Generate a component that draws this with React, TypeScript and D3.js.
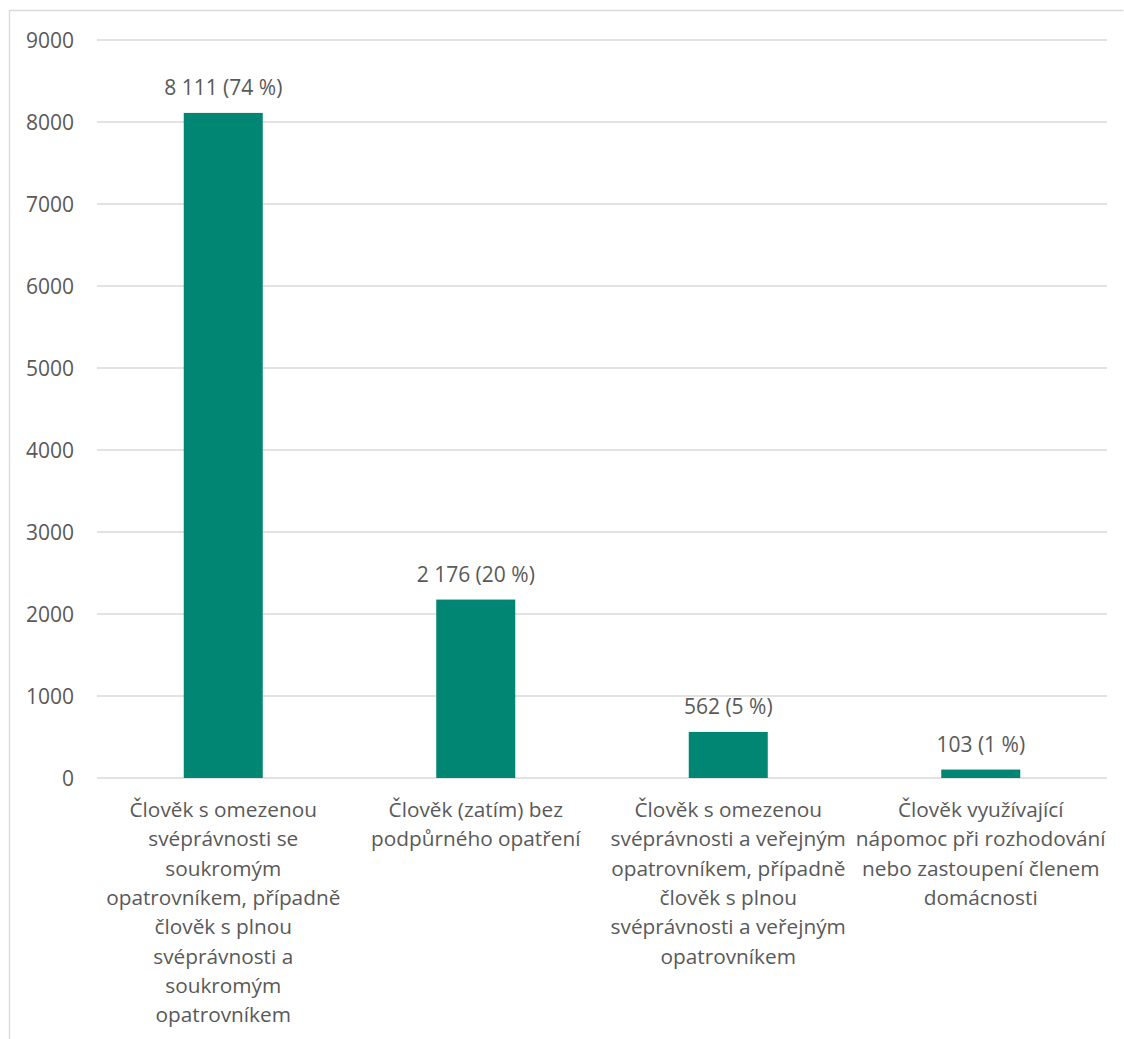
import React from "react";
import * as d3 from "d3";

const categories: string[][] = [
  ["Člověk s omezenou", "svéprávnosti se", "soukromým", "opatrovníkem, případně", "člověk s plnou", "svéprávnosti a", "soukromým", "opatrovníkem"],
  ["Člověk (zatím) bez", "podpůrného opatření"],
  ["Člověk s omezenou", "svéprávnosti a veřejným", "opatrovníkem, případně", "člověk s plnou", "svéprávnosti a veřejným", "opatrovníkem"],
  ["Člověk využívající", "nápomoc při rozhodování", "nebo zastoupení členem", "domácnosti"],
];
const values: number[] = [8111, 2176, 562, 103];
const valueLabels: string[] = ["8 111 (74 %)", "2 176 (20 %)", "562 (5 %)", "103 (1 %)"];
const yTicks: number[] = [0, 1000, 2000, 3000, 4000, 5000, 6000, 7000, 8000, 9000];

const W = 1124;
const H = 1039;
const left = 97;
const right = 1107;
const top = 40;
const bottom = 778;
const FONT = "'Open Sans', sans-serif";
const TEXT = "#595959";
const GRID = "#d9d9d9";
const BAR = "#008672";

export default function App() {
  const y = d3.scaleLinear().domain([0, 9000]).range([bottom, top]);
  const bandStep = (right - left) / values.length;

  return (
    <svg width={W} height={H} style={{ position: "absolute", left: 0, top: 0 }} fontFamily={FONT}>
      <rect x={0} y={0} width={W} height={H} fill="#fff" />
      <path d={`M9.5,${H} V10.5 H1123.5`} fill="none" stroke={GRID} strokeWidth={1.3} />
      {yTicks.map((t) => (
        <g key={t}>
          <line x1={left} x2={right} y1={y(t)} y2={y(t)} stroke={GRID} strokeWidth={1.3} />
          <text x={74} y={y(t)} dy="0.36em" textAnchor="end" fontSize={21} fill={TEXT}>
            {t}
          </text>
        </g>
      ))}
      {values.map((v, i) => {
        const cx = left + bandStep * (i + 0.5);
        const bw = 79;
        return (
          <g key={i}>
            <rect x={cx - bw / 2} y={y(v)} width={bw} height={y(0) - y(v)} fill={BAR} />
            <text x={cx} y={y(v) - 18} textAnchor="middle" fontSize={21} fill={TEXT}>
              {valueLabels[i]}
            </text>
            <text textAnchor="middle" fontSize={20.8} fill={TEXT}>
              {categories[i].map((line, j) => (
                <tspan key={j} x={cx} y={817 + j * 29.3}>
                  {line}
                </tspan>
              ))}
            </text>
          </g>
        );
      })}
    </svg>
  );
}
